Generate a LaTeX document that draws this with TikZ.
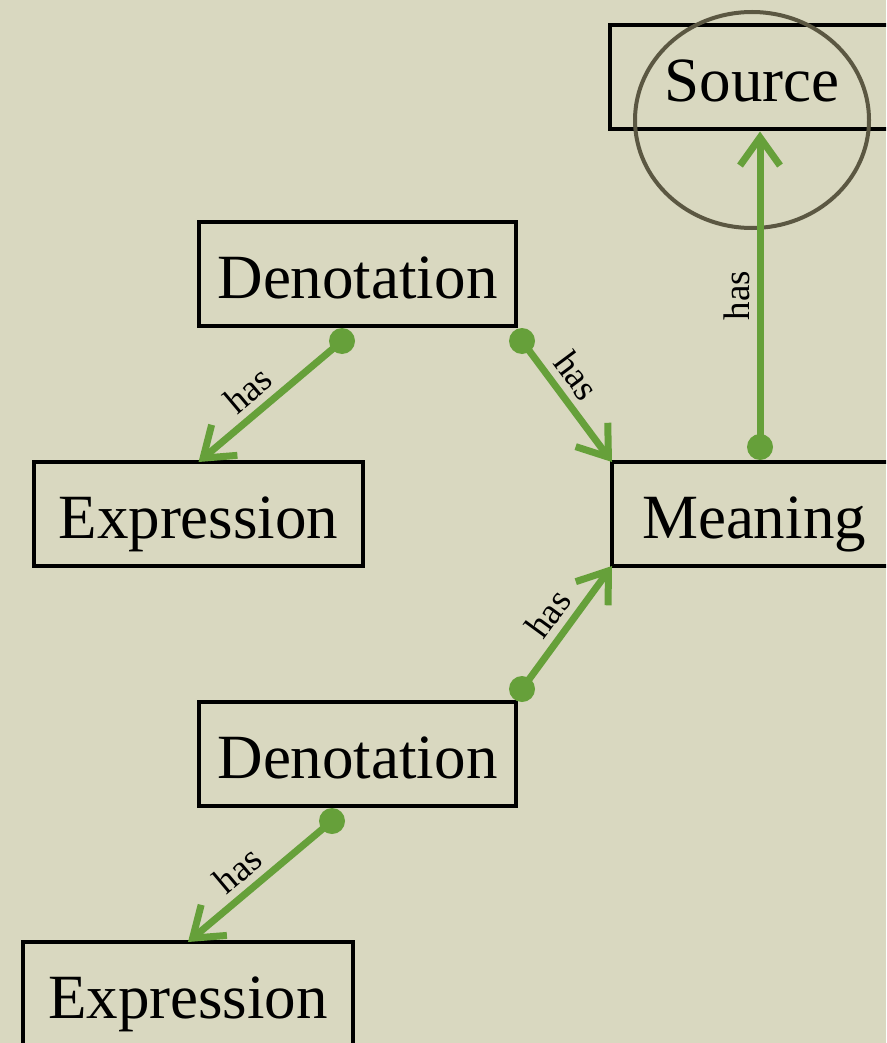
\documentclass[tikz,border=0pt]{standalone}
\usepackage{fontspec}
\setmainfont{Liberation Serif}
\usetikzlibrary{arrows.meta,calc}
\definecolor{bg}{HTML}{D9D8C0}
\definecolor{grn}{HTML}{66A03A}
\definecolor{ring}{HTML}{5B5742}
\begin{document}
\begin{tikzpicture}[x=1pt,y=-1pt,
  box/.style={draw=black,line width=4pt,outer sep=0pt,minimum height=104pt,inner sep=0pt,
    font=\fontsize{63}{70}\selectfont,text height=56pt,text depth=8pt},
  rel/.style={draw=grn,line width=7pt,-{Straight Barb[length=28pt,width=40pt]}},
  dot/.style={fill=grn},
  lbl/.style={font=\fontsize{37}{40}\selectfont,sloped,above,inner sep=7pt,text=black}]
\useasboundingbox (0,0) rectangle (886,1043);
\clip (0,0) rectangle (886,1043);
\fill[bg] (0,0) rectangle (886,1043);

\node[box,minimum width=317pt] (den1) at (357.5,274) {Denotation};
\node[box,minimum width=329pt] (exp1) at (198.5,514) {Expression};
\node[box,minimum width=284pt] (mean) at (754,514) {Meaning};
\node[box,minimum width=284pt] (src) at (752,77.5) {Source};
\node[box,minimum width=317pt] (den2) at (357.5,754) {Denotation};
\node[box,minimum width=330pt] (exp2) at (188,994) {Expression};

\draw[ring,line width=4pt] (752,120) ellipse [x radius=117pt, y radius=108pt];

\coordinate (a1) at ([xshift=-15.5pt,yshift=-15pt]den1.south);
\coordinate (a2) at ([xshift=6pt,yshift=-15pt]den1.south east);
\coordinate (a3) at ([xshift=6pt,yshift=15pt]mean.north);
\coordinate (t3) at ([yshift=-2pt]a3 |- src.south);
\coordinate (a4) at ([xshift=6pt,yshift=13pt]den2.north east);
\coordinate (a5) at ([xshift=-25.5pt,yshift=-15pt]den2.south);

\draw[rel] (a1) -- node[lbl,pos=0.55] {has} (exp1.north);
\draw[rel] (a2) -- node[lbl,pos=0.4] {has} (mean.north west);
\draw[rel] (a3) -- node[lbl,pos=0.48,sloped=false,rotate=90] {has} (t3);
\draw[rel] (a4) -- node[lbl,pos=0.5] {has} (mean.south west);
\draw[rel] (a5) -- node[lbl,pos=0.55] {has} (exp2.north);

\foreach \p in {a1,a2,a3,a4,a5} \fill[dot] (\p) circle (13pt);
\end{tikzpicture}
\end{document}
